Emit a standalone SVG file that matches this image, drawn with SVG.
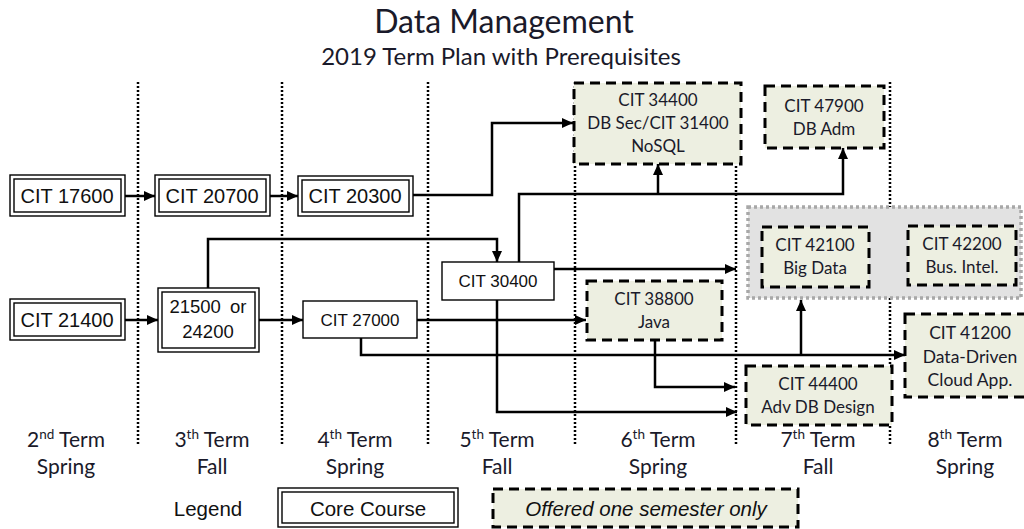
<svg xmlns="http://www.w3.org/2000/svg" width="1024" height="529" viewBox="0 0 1024 529">
  <defs>
    <marker id="arrow" markerUnits="userSpaceOnUse" markerWidth="11" markerHeight="10" refX="11" refY="5" orient="auto">
      <path d="M0,0 L11,5 L0,10 Z" fill="#000"/>
    </marker>
    <style>
      .bg { fill: #fff; }
      .col { stroke: #000; stroke-width: 2.5; stroke-dasharray: 2 2; fill: none; }
      .core { fill: #fff; stroke: #000; stroke-width: 1.4; }
      .plain { fill: #fff; stroke: #000; stroke-width: 1.4; }
      .once { fill: #edefe1; stroke: #000; stroke-width: 3; stroke-dasharray: 10 6; }
      .grp { fill: #e2e2e2; stroke: #a8a8a8; stroke-width: 3.5; stroke-dasharray: 3 3; }
      .arial { font-family: "Liberation Sans", Arial, sans-serif; fill: #111; text-anchor: middle; }
      .cal { font-family: Lato, "Open Sans", sans-serif; fill: #1a1a2a; text-anchor: middle; }
      .c19 { font-size: 20px; }
      .c17 { font-size: 17px; }
      .d15 { font-size: 17px; }
      .term { font-size: 21px; }
      .link { fill: none; stroke: #000; stroke-width: 2.5; marker-end: url(#arrow); }
    </style>
  </defs>

  <rect class="bg" x="0" y="0" width="1024" height="529"/>

  <!-- title -->
  <text class="cal" x="504" y="33" font-size="32">Data Management</text>
  <text class="cal" x="501" y="65" font-size="24">2019 Term Plan with Prerequisites</text>

  <!-- term column separators -->
  <g id="columns">
    <line class="col" x1="138" y1="82" x2="138" y2="446"/>
    <line class="col" x1="282" y1="82" x2="282" y2="446"/>
    <line class="col" x1="428" y1="82" x2="428" y2="446"/>
    <line class="col" x1="575" y1="82" x2="575" y2="446"/>
    <line class="col" x1="736" y1="82" x2="736" y2="444"/>
    <line class="col" x1="890" y1="82" x2="890" y2="444"/>
  </g>

  <!-- grouped electives -->
  <g id="elective-group">
    <rect class="grp" x="748" y="207" width="273" height="91"/>
  </g>

  <!-- core courses -->
  <g id="cit17600">
    <rect class="core" x="10" y="175" width="115" height="41"/>
    <rect class="core" x="14" y="179" width="107" height="33"/>
    <text class="arial c19" x="67" y="203">CIT 17600</text>
  </g>
  <g id="cit20700">
    <rect class="core" x="155" y="175" width="115" height="41"/>
    <rect class="core" x="159" y="179" width="107" height="33"/>
    <text class="arial c19" x="212" y="203">CIT 20700</text>
  </g>
  <g id="cit20300">
    <rect class="core" x="298" y="176" width="115" height="40"/>
    <rect class="core" x="302" y="180" width="107" height="32"/>
    <text class="arial c19" x="355" y="203">CIT 20300</text>
  </g>
  <g id="cit21400">
    <rect class="core" x="10" y="299" width="115" height="41"/>
    <rect class="core" x="14" y="303" width="107" height="33"/>
    <text class="arial c19" x="67" y="327">CIT 21400</text>
  </g>
  <g id="cit21500-24200">
    <rect class="core" x="158" y="288" width="101" height="64"/>
    <rect class="core" x="162" y="292" width="93" height="56"/>
    <text class="arial" x="208" y="313" font-size="18.5" word-spacing="4">21500 or</text>
    <text class="arial" x="208" y="338" font-size="18.5">24200</text>
  </g>

  <!-- other courses -->
  <g id="cit27000">
    <rect class="plain" x="303" y="301" width="114" height="37"/>
    <text class="arial c17" x="360" y="326">CIT 27000</text>
  </g>
  <g id="cit30400">
    <rect class="plain" x="442" y="262" width="112" height="38"/>
    <text class="arial c17" x="498" y="287">CIT 30400</text>
  </g>

  <!-- courses offered one semester only -->
  <g id="cit34400">
    <rect class="once" x="574" y="83" width="167" height="81"/>
    <text class="cal d15" x="658" y="106">CIT 34400</text>
    <text class="cal d15" x="658" y="129">DB Sec/CIT 31400</text>
    <text class="cal d15" x="658" y="152">NoSQL</text>
  </g>
  <g id="cit47900">
    <rect class="once" x="765" y="86" width="119" height="62"/>
    <text class="cal d15" x="824" y="112">CIT 47900</text>
    <text class="cal d15" x="824" y="135">DB Adm</text>
  </g>
  <g id="cit42100">
    <rect class="once" x="762" y="227" width="107" height="60"/>
    <text class="cal d15" x="815" y="251">CIT 42100</text>
    <text class="cal d15" x="815" y="274">Big Data</text>
  </g>
  <g id="cit42200">
    <rect class="once" x="908" y="226" width="108" height="59"/>
    <text class="cal d15" x="962" y="250">CIT 42200</text>
    <text class="cal d15" x="962" y="273">Bus. Intel.</text>
  </g>
  <g id="cit38800">
    <rect class="once" x="587" y="281" width="135" height="59"/>
    <text class="cal d15" x="654" y="305">CIT 38800</text>
    <text class="cal d15" x="654" y="328">Java</text>
  </g>
  <g id="cit41200">
    <rect class="once" x="905" y="314" width="130" height="83"/>
    <text class="cal" x="970" y="339" font-size="17.5">CIT 41200</text>
    <text class="cal" x="970" y="363" font-size="17.5">Data-Driven</text>
    <text class="cal" x="970" y="386" font-size="17.5">Cloud App.</text>
  </g>
  <g id="cit44400">
    <rect class="once" x="746" y="366" width="146" height="59"/>
    <text class="cal d15" x="818" y="390">CIT 44400</text>
    <text class="cal d15" x="818" y="413">Adv DB Design</text>
  </g>

  <!-- prerequisite connectors -->
  <g id="connectors">
    <path class="link" d="M125,196 H155"/>
    <path class="link" d="M270,196 H298"/>
    <path class="link" d="M413,195 H492 V123 H573"/>
    <path class="link" d="M125,320 H158"/>
    <path class="link" d="M259,320 H303"/>
    <path class="link" d="M208,288 V239 H497 V262"/>
    <path class="link" d="M519,262 V194 H843 V148"/>
    <path class="link" d="M658,194 V164"/>
    <path class="link" d="M554,269 H736"/>
    <path class="link" d="M417,320 H586"/>
    <path class="link" d="M361,338 V355 H905"/>
    <path class="link" d="M801,355 V300"/>
    <path class="link" d="M497,300 V412 H737"/>
    <path class="link" d="M655,340 V387 H735"/>
  </g>

  <!-- term labels -->
  <g id="terms">
    <text class="cal term" x="66" y="447">2<tspan font-size="13.5" dy="-8">nd</tspan><tspan dy="8"> Term</tspan></text>
    <text class="cal term" x="66" y="474">Spring</text>
    <text class="cal term" x="212" y="447">3<tspan font-size="13.5" dy="-8">th</tspan><tspan dy="8"> Term</tspan></text>
    <text class="cal term" x="212" y="474">Fall</text>
    <text class="cal term" x="355" y="447">4<tspan font-size="13.5" dy="-8">th</tspan><tspan dy="8"> Term</tspan></text>
    <text class="cal term" x="355" y="474">Spring</text>
    <text class="cal term" x="497" y="447">5<tspan font-size="13.5" dy="-8">th</tspan><tspan dy="8"> Term</tspan></text>
    <text class="cal term" x="497" y="474">Fall</text>
    <text class="cal term" x="658" y="447">6<tspan font-size="13.5" dy="-8">th</tspan><tspan dy="8"> Term</tspan></text>
    <text class="cal term" x="658" y="474">Spring</text>
    <text class="cal term" x="818" y="447">7<tspan font-size="13.5" dy="-8">th</tspan><tspan dy="8"> Term</tspan></text>
    <text class="cal term" x="818" y="474">Fall</text>
    <text class="cal term" x="965" y="447">8<tspan font-size="13.5" dy="-8">th</tspan><tspan dy="8"> Term</tspan></text>
    <text class="cal term" x="965" y="474">Spring</text>
  </g>

  <!-- legend -->
  <g id="legend">
    <text class="arial" x="208" y="516" font-size="20.5">Legend</text>
    <rect class="core" x="278" y="488" width="180" height="39"/>
    <rect class="core" x="282" y="492" width="172" height="31"/>
    <text class="arial" x="368" y="516" font-size="20.5">Core Course</text>
    <rect class="once" x="493" y="489" width="305" height="38"/>
    <text class="arial" x="646" y="516" font-size="20.5" font-style="italic">Offered one semester only</text>
  </g>
</svg>
